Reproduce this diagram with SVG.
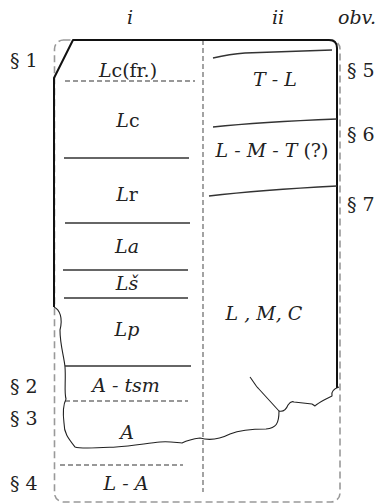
<svg xmlns="http://www.w3.org/2000/svg" width="377" height="504" viewBox="0 0 377 504" font-family="DejaVu Serif, Liberation Serif, serif">
<style>
text{font-size:19px;fill:#222}
.c{text-anchor:middle}
.i{font-style:italic}
.outline{fill:none;stroke:#999;stroke-width:1.6;stroke-dasharray:7 4}
.div{fill:none;stroke:#666;stroke-width:1.2;stroke-dasharray:5 3}
.edge{fill:none;stroke:#111;stroke-width:2;stroke-linejoin:round}
.crack{fill:none;stroke:#222;stroke-width:1.1;stroke-linejoin:round}
.sep{stroke:#333;stroke-width:1.3;fill:none}
.dsep{stroke:#333;stroke-width:1.1;stroke-dasharray:5 3;fill:none}
</style>
<g id="connectors">
<rect class="outline" x="54.5" y="40" width="285.5" height="462" rx="9"/>
<line class="div" x1="203" y1="40" x2="203" y2="492"/>
<path class="edge" d="M54,307 L54,78 L73,40 L329,40 Q337,40 337,48 L337,388"/>
<path class="crack" d="M54,307 C60,310 63,318 60,330 C60,345 64,356 65,367 C66,380 64,392 66,399 C63,405 63,415 64,423 C64,433 68,438 75,447 C80,449 95,448 116,447 C133,446 148,443 160,442 C170,441 178,443 182,443 C186,441 192,439 200,438 C210,441 220,439 230,434 C240,430 250,429 266,429 C276,428 279,424 279,411 C283,412 286,410 288,405 C290,402 292,401 294,402 L312,404 C314,405 315,407 316,405 C321,401 328,398 332,396 C331,392 333,389 339,387"/>
<path class="crack" d="M250,377 C253,381 256,386 258,388 L279,411"/>
<line class="dsep" x1="65" y1="81" x2="195" y2="81"/>
<line class="sep" x1="64" y1="158" x2="189" y2="158"/>
<line class="sep" x1="65" y1="223" x2="190" y2="223"/>
<line class="sep" x1="63" y1="270" x2="188" y2="270"/>
<line class="sep" x1="64" y1="298" x2="188" y2="298"/>
<line class="sep" x1="65" y1="366" x2="191" y2="366"/>
<line class="dsep" x1="65" y1="401" x2="188" y2="401"/>
<line class="dsep" x1="60" y1="465" x2="183" y2="465"/>
<path class="sep" d="M213,58 Q230,54 245,53 L332,50"/>
<path class="sep" d="M213,127 Q260,122 337,119"/>
<path class="sep" d="M209,196 Q260,190 337,186"/>
</g>
<g id="headers">
<text class="c i" x="130" y="24">i</text>
<text class="c i" x="278" y="24">ii</text>
<text class="c i" x="357" y="24">obv.</text>
</g>
<g id="section-labels">
<text x="10" y="67">§ 1</text>
<text x="10" y="393">§ 2</text>
<text x="10" y="425">§ 3</text>
<text x="10" y="490">§ 4</text>
<text x="347" y="77">§ 5</text>
<text x="347" y="141">§ 6</text>
<text x="347" y="211">§ 7</text>
</g>
<g id="col-i">
<g id="n-lcfr"><text class="c" x="128" y="77"><tspan class="i">L</tspan>c(fr.)</text></g>
<g id="n-lc"><text class="c" x="128" y="127"><tspan class="i">L</tspan>c</text></g>
<g id="n-lr"><text class="c" x="127" y="201"><tspan class="i">L</tspan>r</text></g>
<g id="n-la"><text class="c i" x="127" y="253">La</text></g>
<g id="n-ls"><text class="c i" x="127" y="290">Lš</text></g>
<g id="n-lp"><text class="c i" x="127" y="336">Lp</text></g>
<g id="n-atsm"><text class="c i" x="126" y="392">A - tsm</text></g>
<g id="n-a"><text class="c i" x="127" y="439">A</text></g>
<g id="n-la2"><text class="c i" x="126" y="490">L - A</text></g>
</g>
<g id="col-ii">
<g id="n-tl"><text class="c i" x="275" y="86">T - L</text></g>
<g id="n-lmt"><text class="c" x="272" y="157"><tspan class="i">L - M - T</tspan> (?)</text></g>
<g id="n-lmc"><text class="c i" x="264" y="320">L , M, C</text></g>
</g>
</svg>
